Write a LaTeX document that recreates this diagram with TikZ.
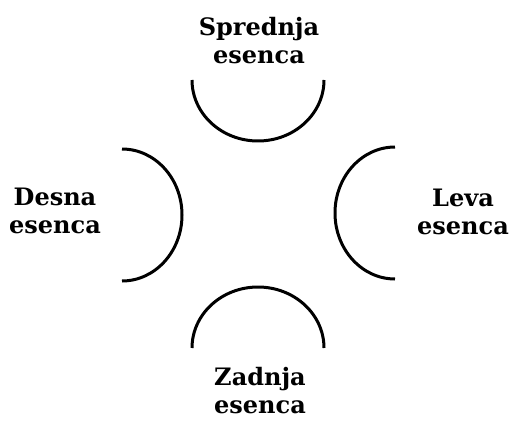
\documentclass[tikz,border=0pt]{standalone}
\usepackage{fontspec}
\setmainfont{DejaVu Serif}

\begin{document}
\begin{tikzpicture}[
  x=1pt, y=1pt,
  essence/.style={font=\fontsize{24}{28}\selectfont\bfseries, align=center, inner sep=0pt},
  rim/.style={line width=3pt}
]

\useasboundingbox (0, 0) rectangle (511, 421);

\coordinate (TopL) at (192, 341);
\coordinate (BotL) at (192, 73);
\coordinate (LeftT) at (122, 272);
\coordinate (RightT) at (395, 274);
\draw[rim] (TopL) arc[start angle=180, end angle=360, x radius=66, y radius=61];
\draw[rim] (BotL) arc[start angle=180, end angle=0, x radius=66, y radius=61];
\draw[rim] (LeftT) arc[start angle=90, end angle=-90, x radius=60, y radius=66];
\draw[rim] (RightT) arc[start angle=90, end angle=270, x radius=60, y radius=66];

\node[essence] (front) at (259, 380) {Sprednja\\esenca};
\node[essence] (right) at (55, 210) {Desna\\esenca};
\node[essence] (left) at (463, 209) {Leva\\esenca};
\node[essence] (back) at (260, 30) {Zadnja\\esenca};
\end{tikzpicture}
\end{document}
